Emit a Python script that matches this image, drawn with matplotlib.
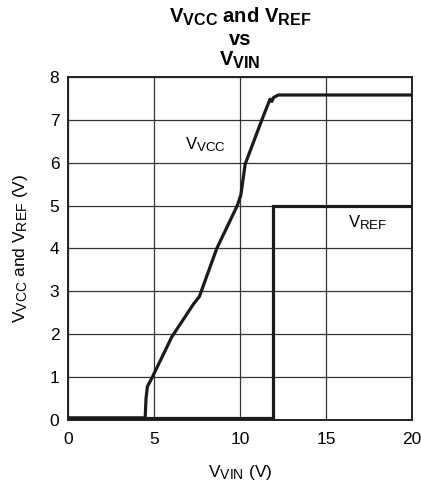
import matplotlib
matplotlib.use("Agg")
import matplotlib.pyplot as plt
import matplotlib._mathtext as mt

# subscripts in the original are only slightly smaller than the main text
mt.SHRINK_FACTOR = 0.8

plt.rcParams['font.family'] = ['Liberation Sans', 'DejaVu Sans']
plt.rcParams['mathtext.fontset'] = 'custom'
plt.rcParams['mathtext.rm'] = 'Liberation Sans'
plt.rcParams['mathtext.it'] = 'Liberation Sans'
plt.rcParams['mathtext.bf'] = 'Liberation Sans:bold'

# V_VCC vs V_VIN
vin_vcc = [0, 4.5, 4.55, 4.63, 4.88, 6.05, 7.3, 7.65, 8.66, 9.85, 10.06, 10.31,
           11.28, 11.75, 11.86, 11.95, 12.24, 20]
vcc = [0.05, 0.05, 0.5, 0.78, 0.97, 1.94, 2.7, 2.88, 4.0, 5.0, 5.25, 5.97,
       7.0, 7.48, 7.43, 7.52, 7.58, 7.58]

# V_REF vs V_VIN
vin_ref = [0, 11.92, 11.92, 20]
vref = [0.05, 0.05, 5.0, 5.0]

xticks = [0, 5, 10, 15, 20]
yticks = [0, 1, 2, 3, 4, 5, 6, 7, 8]

fig = plt.figure(figsize=(4.21, 4.87), dpi=100)
ax = fig.add_axes([0.1608, 0.1376, 0.8178, 0.7043])

ax.plot(vin_vcc, vcc, color='#1a1a1a', lw=2.3, solid_joinstyle='round', zorder=3)
ax.plot(vin_ref, vref, color='#1a1a1a', lw=2.3, solid_joinstyle='miter', zorder=3)

ax.set_xlim(0, 20)
ax.set_ylim(0, 8)
ax.set_xticks(xticks)
ax.set_yticks(yticks)
ax.tick_params(axis='x', length=0, labelsize=12.5, pad=9)
ax.tick_params(axis='y', length=0, labelsize=12.5, pad=6)
ax.grid(True, color='#333333', lw=0.9)
for s in ax.spines.values():
    s.set_linewidth(1.4)
    s.set_color('#222222')

ax.text(6.8, 6.42, r'$\mathregular{V_{VCC}}$', fontsize=12, va='center', ha='left')
ax.text(16.3, 4.6, r'$\mathregular{V_{REF}}$', fontsize=12, va='center', ha='left')

ax.set_xlabel(r'$\mathregular{V_{VIN}}$ (V)', fontsize=12.5, labelpad=11)
ax.set_ylabel(r'$\mathregular{V_{VCC}}$ and $\mathregular{V_{REF}}$ (V)', fontsize=12.5, labelpad=14)

ax.set_title(r'$\mathbf{V_{VCC}}$ and $\mathbf{V_{REF}}$' + '\nvs\n' + r'$\mathbf{V_{VIN}}$',
             fontsize=14.5, fontweight='bold', linespacing=1.08, pad=8)

fig.savefig('out.png', dpi=100)
